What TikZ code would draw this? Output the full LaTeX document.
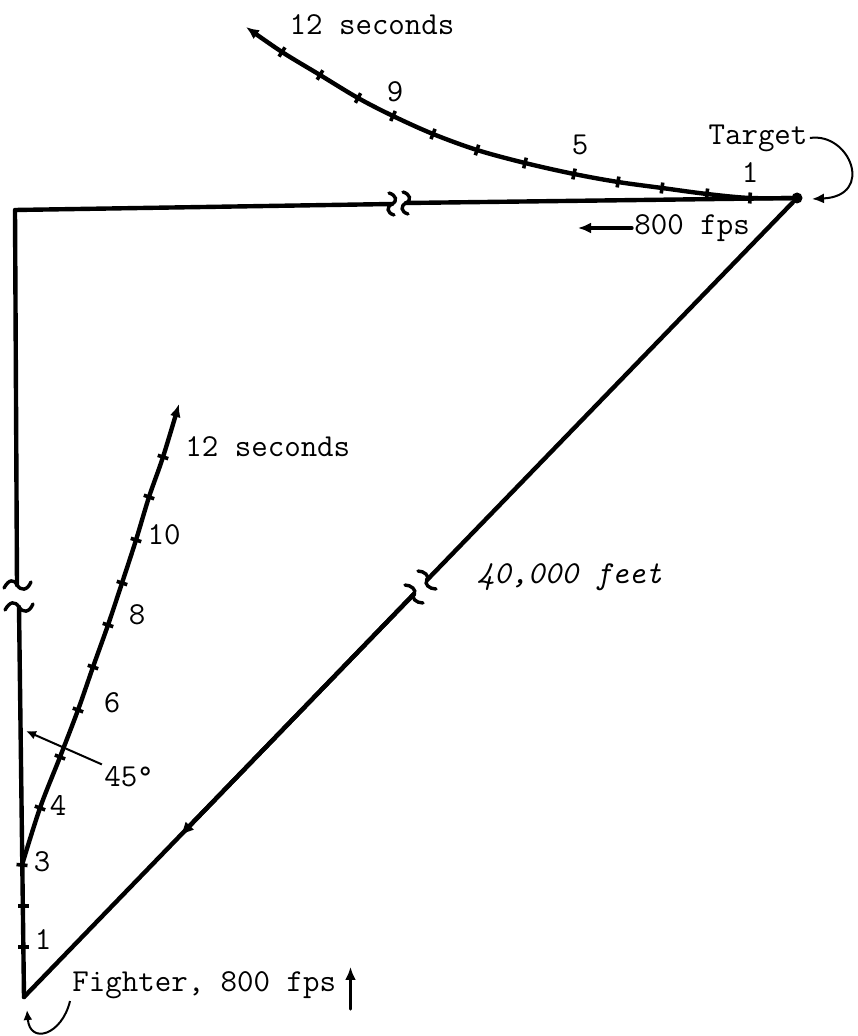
\documentclass[tikz,border=0pt]{standalone}
\usetikzlibrary{arrows.meta,calc}

\begin{document}
\begin{tikzpicture}[
    x=0.5pt,
    y=-0.5pt,
    font=\ttfamily\fontsize{16}{18}\selectfont,
    >={Latex[length=6.5pt,width=5.5pt]},
    route/.style={draw=black, line width=2.2pt, line cap=round, line join=round},
    leader/.style={draw=black, line width=1pt},
    brk/.style={draw=black, line width=1.7pt, line cap=round},
    tick/.style={fill=black, inner sep=0pt, minimum width=1.8pt, minimum height=5.5pt},
    dot/.style={circle, fill=black, inner sep=0pt, minimum size=5.5pt},
    lbl/.style={inner sep=1pt}
]

\path[use as bounding box] (0,0) rectangle (857,1036);

\coordinate (fighter) at (24,997);
\coordinate (corner) at (15,210);
\node[dot] (target) at (797,198) {};

% Where the three sides are broken (not to scale).
\coordinate (lefthi) at (17,585);
\coordinate (leftlo) at (19,607);
\coordinate (topl) at (392,204);
\coordinate (topr) at (406,203);
\coordinate (diaglo) at (414,594);
\coordinate (diaghi) at (427,580);

% Triangle sides.
\draw[route] (lefthi) -- (corner) -- (topl);
\draw[route] (topr) -- (target);
\draw[route] (leftlo) -- (fighter);
\draw[route] (fighter) -- (diaglo);
\draw[route] (diaghi) -- (target);
\draw[route, -{Latex[length=7pt,width=6pt]}]
    (diaglo) -- ($(diaglo)!0.6!(fighter)$);

% Break marks.
\draw[brk] (4,588) .. controls (9,579) and (14,579) .. (17,585)
    .. controls (21,591) and (27,591) .. (31,582);
\draw[brk] (5,610) .. controls (10,601) and (15,601) .. (19,607)
    .. controls (23,613) and (29,613) .. (33,604);
\draw[brk] (389,193) .. controls (396,195) and (398,201) .. (392,204)
    .. controls (386,207) and (387,213) .. (394,215);
\draw[brk] (403,192) .. controls (410,194) and (412,200) .. (406,203)
    .. controls (400,206) and (401,212) .. (408,214);
\draw[brk] (405,585) .. controls (411,585) and (417,590) .. (414,594)
    .. controls (411,598) and (416,603) .. (423,603);
\draw[brk] (418,571) .. controls (424,571) and (430,576) .. (427,580)
    .. controls (424,584) and (429,589) .. (436,589);

% Target path, one tick per second.
\draw[route, ->] plot[smooth, tension=0.55] coordinates {
    (target) (750,198) (707,194) (662,188) (618,182) (574,174) (525,163)
    (477,150) (433,134) (393,116) (358,98) (320,75) (282,52) (246,27)
};
\foreach \x/\y/\a in {
    750/198/-3, 707/194/-6, 662/188/-8, 618/182/-9, 574/174/-12,
    525/163/-14, 477/150/-18, 433/134/-22, 393/116/-25, 358/98/-29,
    320/75/-31, 282/52/-33
} {
    \node[tick, rotate=\a] at (\x,\y) {};
}

% Fighter path: straight for 3 seconds, then the turn.
\draw[route, ->] plot[smooth, tension=0.55] coordinates {
    (22,865) (40,808) (60,757) (78,710) (93,667) (108,625) (122,583)
    (136,540) (149,497) (163,457) (179,404)
};
\foreach \x/\y/\a in {
    23/947/90, 23/906/90, 22/865/85, 40/808/70, 60/757/69, 78/710/70,
    93/667/71, 108/625/72, 122/583/72, 136/540/72, 149/497/71, 163/457/72
} {
    \node[tick, rotate=\a] at (\x,\y) {};
}

% Labels.
\node[lbl] (tsec) at (372,25) {12 seconds};
\node[lbl] (t9) at (395,92) {9};
\node[lbl] (t5) at (580,145) {5};
\node[lbl] (t1) at (750,173) {1};
\node[lbl] (tlab) at (758,138) {Target};
\node[lbl, anchor=west] (tvel) at (632,228) {800 fps};
\coordinate (tvtip) at (578,228);
\draw[route, line width=1.6pt, ->] (tvel.west) -- (tvtip);
\coordinate (tgtin) at (812,199);
\draw[leader, -{Latex[length=6pt,width=5pt]}]
    (tlab.east) .. controls (850,132) and (875,196) .. (tgtin);

\node[lbl, anchor=west] (fsec) at (183,447) {12 seconds};
\node[lbl] (f10) at (164,535) {10};
\node[lbl] (f8) at (137,615) {8};
\node[lbl] (f6) at (112,703) {6};
\node[lbl] (f4) at (58,805) {4};
\node[lbl] (f3) at (42,862) {3};
\node[lbl] (f1) at (43,940) {1};

\node[lbl] (ang) at (129,777) {45\textdegree};
\coordinate (angtip) at (26,731);
\draw[leader, -{Latex[length=5pt,width=4.5pt]}] (ang.north west) -- (angtip);

\node[lbl, anchor=west, font=\ttfamily\itshape\fontsize{16}{18}\selectfont]
    (range) at (475,577) {40,000 feet};

\node[lbl, anchor=west] (flab) at (70,985) {Fighter, 800 fps};
\coordinate (fgtin) at (27,1010);
\draw[leader, -{Latex[length=5pt,width=4.5pt]}]
    (flab.south west) .. controls (62,1035) and (30,1045) .. (fgtin);
\coordinate (fvlo) at ($(flab.south east)+(12,8)$);
\coordinate (fvhi) at ($(flab.north east)+(12,-2)$);
\draw[route, line width=1.6pt, ->] (fvlo) -- (fvhi);

\end{tikzpicture}
\end{document}
